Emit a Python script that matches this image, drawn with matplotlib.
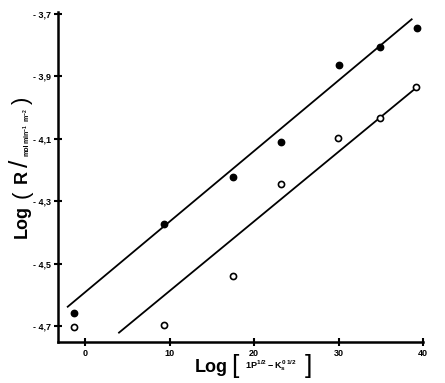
import numpy as np
import matplotlib.pyplot as plt

plt.rcParams['font.family'] = ['Liberation Sans', 'DejaVu Sans']
plt.rcParams['font.weight'] = 'bold'
plt.rcParams['mathtext.fontset'] = 'custom'
plt.rcParams['mathtext.rm'] = 'Liberation Sans:bold'
plt.rcParams['mathtext.it'] = 'Liberation Sans:bold'
plt.rcParams['mathtext.bf'] = 'Liberation Sans:bold'

# filled circles
x_filled = [-1.3, 9.35, 17.5, 23.2, 30.0, 34.9, 39.3]
y_filled = [-4.658, -4.373, -4.221, -4.109, -3.865, -3.805, -3.745]
# open circles
x_open = [-1.3, 9.35, 17.5, 23.2, 29.95, 34.9, 39.2]
y_open = [-4.703, -4.698, -4.541, -4.244, -4.097, -4.033, -3.934]

# drawn straight lines (end points)
line1_x = [-2.05, 38.66]
line1_y = [-4.638, -3.717]
line2_x = [4.02, 39.17]
line2_y = [-4.721, -3.937]

xticks = [0, 10, 20, 30, 40]
xticklabels = ['0', '10', '20', '30', '40']
yticks = [-3.7, -3.9, -4.1, -4.3, -4.5, -4.7]
yticklabels = ['- 3,7', '- 3,9', '- 4,1', '- 4,3', '- 4,5', '- 4,7']

W, H = 445, 383
fig = plt.figure(figsize=(W / 100, H / 100), dpi=100)
ax = fig.add_axes([58 / W, 1 - 342 / H, (423 - 58) / W, (342 - 12) / H])

ax.plot(line1_x, line1_y, color='black', lw=1.3)
ax.plot(line2_x, line2_y, color='black', lw=1.3)
ax.plot(x_filled, y_filled, 'o', color='black', ms=4.6)
ax.plot(x_open, y_open, 'o', mfc='white', mec='black', mew=1.2, ms=4.4)

ax.set_xlim(-3.2, 40)
ax.set_ylim(-4.751, -3.6936)

for s in ['top', 'right']:
    ax.spines[s].set_visible(False)
for s in ['left', 'bottom']:
    ax.spines[s].set_linewidth(1.8)

ax.set_xticks(xticks)
ax.set_xticklabels(xticklabels, fontsize=6.5, fontweight='bold')
ax.set_yticks(yticks)
ax.set_yticklabels(yticklabels, fontsize=6.5, fontweight='bold')
ax.tick_params(direction='inout', length=6, width=1.5, pad=2)


def put(x, y, s, size, weight='bold', **kw):
    fig.text(x / W, 1 - y / H, s, fontsize=size, fontweight=weight,
             ha='center', va='center', **kw)


# x axis label
put(211, 367, 'Log', 13)
put(235, 366, '[', 19, weight='normal')
put(271, 366, r'$1P^{1/2} - K_s^{0\ 1/2}$', 6.5)
put(308, 366, ']', 19, weight='normal')

# y axis label
put(22, 222, 'Log', 13, rotation=90)
put(22, 194, '(', 16, weight='normal', rotation=90)
put(22, 176, 'R', 13, rotation=90)
put(21, 163, '/', 19, weight='normal', rotation=90)
put(27, 150, 'mol', 5, rotation=90)
put(27, 126, r'min$^{-1}$  m$^{-2}$', 5, rotation=90)
put(22, 100, ')', 16, weight='normal', rotation=90)

fig.savefig('out.png', dpi=100)
